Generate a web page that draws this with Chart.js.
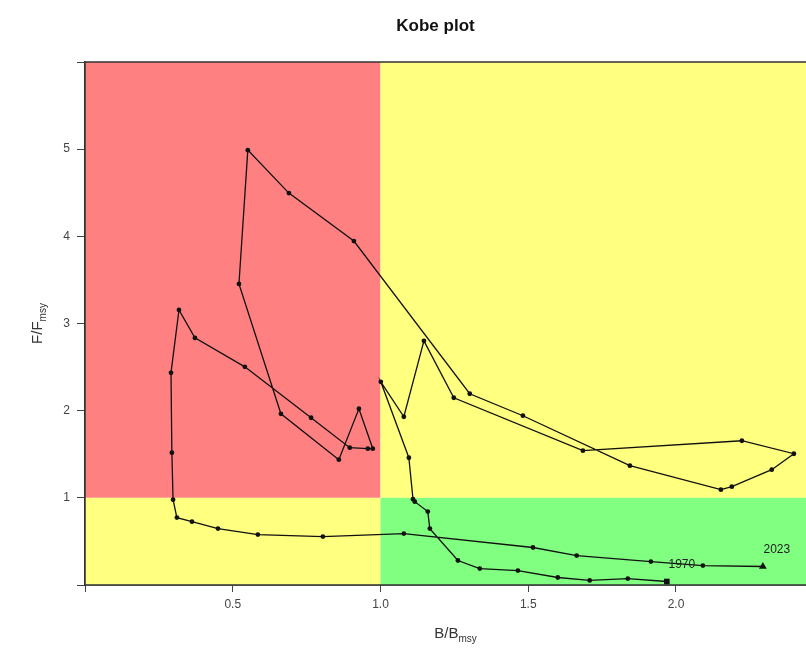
<!DOCTYPE html>
<html>
<head>
<meta charset="utf-8">
<script src="https://cdn.jsdelivr.net/npm/chart.js@4.4.1/dist/chart.umd.min.js"></script>
<style>
  html, body { margin: 0; padding: 0; background: #fff; }
  #wrap { width: 806px; height: 648px; }
</style>
</head>
<body>
<div id="wrap"><canvas id="kobe"></canvas></div>
<script>
// ========== Data ==========
// trajectory, first point = 1970, last point = 2023
const bRatio = [
  1.969, 1.837, 1.708, 1.600, 1.465, 1.336, 1.262, 1.167, 1.160, 1.116,
  1.110, 1.096, 1.001, 1.079, 1.147, 1.248, 1.685, 2.223, 2.399, 2.324,
  2.189, 2.152, 1.844, 1.482, 1.302, 0.910, 0.690, 0.551, 0.521, 0.663,
  0.859, 0.927, 0.974, 0.957, 0.896, 0.765, 0.541, 0.372, 0.318, 0.291,
  0.294, 0.298, 0.311, 0.362, 0.450, 0.585, 0.805, 1.079, 1.516, 1.664,
  1.915, 2.091, 2.294
];
const fRatio = [
  0.040, 0.074, 0.052, 0.086, 0.166, 0.189, 0.281, 0.647, 0.842, 0.956,
  0.985, 1.460, 2.331, 1.930, 2.801, 2.148, 1.541, 1.655, 1.506, 1.323,
  1.128, 1.094, 1.369, 1.942, 2.194, 3.946, 4.496, 4.989, 3.454, 1.964,
  1.438, 2.022, 1.564, 1.564, 1.575, 1.919, 2.503, 2.835, 3.156, 2.434,
  1.518, 0.979, 0.773, 0.727, 0.647, 0.578, 0.556, 0.590, 0.430, 0.338,
  0.269, 0.223, 0.212
];
const yearLabels = ['1970', '2023'];
const xTicks = [0, 0.5, 1.0, 1.5, 2.0];
const yTicks = [0, 1, 2, 3, 4, 5, 6];

// reference points splitting the quadrants
const bRef = 1;
const fRef = 1;

const RED = 'rgb(255,128,128)';
const YELLOW = 'rgb(255,255,128)';
const GREEN = 'rgb(128,255,128)';
const FONT = '"Liberation Sans", Arial, sans-serif';

// ========== Quadrants + box + texts ==========
const kobePlugin = {
  id: 'kobe',
  beforeDatasetsDraw(chart) {
    const { ctx, chartArea: a, scales } = chart;
    const xm = scales.x.getPixelForValue(bRef);
    const ym = scales.y.getPixelForValue(fRef);
    ctx.save();
    ctx.fillStyle = RED;    ctx.fillRect(a.left, a.top, xm - a.left, ym - a.top);
    ctx.fillStyle = YELLOW; ctx.fillRect(xm, a.top, a.right - xm, ym - a.top);
    ctx.fillStyle = YELLOW; ctx.fillRect(a.left, ym, xm - a.left, a.bottom - ym);
    ctx.fillStyle = GREEN;  ctx.fillRect(xm, ym, a.right - xm, a.bottom - ym);
    ctx.restore();
  },
  afterDraw(chart) {
    const { ctx, chartArea: a, scales } = chart;
    ctx.save();
    // box (right side is off the page)
    ctx.strokeStyle = '#333';
    ctx.lineWidth = 1.5;
    ctx.beginPath();
    ctx.moveTo(a.right, a.top);
    ctx.lineTo(a.left, a.top);
    ctx.lineTo(a.left, a.bottom);
    ctx.lineTo(a.right, a.bottom);
    ctx.stroke();

    // year labels at first / last point
    const last = bRatio.length - 1;
    ctx.fillStyle = '#222';
    ctx.font = '12px ' + FONT;
    ctx.textAlign = 'center';
    ctx.textBaseline = 'middle';
    ctx.fillText(yearLabels[0], scales.x.getPixelForValue(bRatio[0]) + 15, scales.y.getPixelForValue(fRatio[0]) - 17);
    ctx.fillText(yearLabels[1], scales.x.getPixelForValue(bRatio[last]) + 14, scales.y.getPixelForValue(fRatio[last]) - 17);

    // title
    ctx.fillStyle = '#111';
    ctx.font = 'bold 17px ' + FONT;
    ctx.fillText('Kobe plot', (a.left + a.right) / 2 - 10, 26);

    // axis titles with subscript
    drawSub(ctx, 'B/B', 'msy', (a.left + a.right) / 2 + 10, 634);
    ctx.translate(38, (a.top + a.bottom) / 2);
    ctx.rotate(-Math.PI / 2);
    drawSub(ctx, 'F/F', 'msy', 0, 0);
    ctx.restore();
  }
};

function drawSub(ctx, main, sub, cx, cy) {
  ctx.font = '15px ' + FONT;
  const w1 = ctx.measureText(main).width;
  ctx.font = '10px ' + FONT;
  const w2 = ctx.measureText(sub).width;
  const x0 = cx - (w1 + w2) / 2;
  ctx.fillStyle = '#333';
  ctx.textAlign = 'left';
  ctx.textBaseline = 'middle';
  ctx.font = '15px ' + FONT;
  ctx.fillText(main, x0, cy);
  ctx.font = '10px ' + FONT;
  ctx.fillText(sub, x0 + w1, cy + 5);
}

// ========== Chart ==========
const last = bRatio.length - 1;
const points = bRatio.map((b, i) => ({ x: b, y: fRatio[i] }));

new Chart(document.getElementById('kobe'), {
  type: 'scatter',
  data: {
    datasets: [{
      data: points,
      showLine: true,
      tension: 0,
      borderColor: '#111',
      borderWidth: 1.3,
      backgroundColor: '#111',
      pointBorderColor: '#111',
      pointBackgroundColor: '#111',
      pointStyle: c => c.dataIndex === 0 ? 'rect' : (c.dataIndex === last ? 'triangle' : 'circle'),
      pointRadius: c => c.dataIndex === 0 ? 4 : (c.dataIndex === last ? 4.5 : 2.4),
      pointBorderWidth: 0
    }]
  },
  options: {
    responsive: true,
    maintainAspectRatio: false,
    animation: false,
    layout: { autoPadding: false, padding: { top: 62, left: 0, right: 0, bottom: 0 } },
    plugins: {
      legend: { display: false },
      title: { display: false },
      tooltip: { enabled: false }
    },
    scales: {
      x: {
        type: 'linear',
        min: 0,
        max: 2.44,
        afterFit: s => { s.height = 63; },
        afterBuildTicks: s => { s.ticks = xTicks.map(v => ({ value: v })); },
        ticks: {
          autoSkip: false,
          maxRotation: 0,
          padding: 5,
          color: '#444',
          font: { family: FONT, size: 12 },
          callback: v => v === 0 ? '' : v.toFixed(1)
        },
        grid: { drawOnChartArea: false, drawTicks: true, tickLength: 7, color: '#444' },
        border: { display: true, color: '#333', width: 1.5 }
      },
      y: {
        type: 'linear',
        min: 0,
        max: 6,
        afterFit: s => { s.width = 85; },
        afterBuildTicks: s => { s.ticks = yTicks.map(v => ({ value: v })); },
        ticks: {
          autoSkip: false,
          padding: 7,
          color: '#444',
          font: { family: FONT, size: 12 },
          callback: v => (v === 0 || v === 6) ? '' : String(v)
        },
        grid: { drawOnChartArea: false, drawTicks: true, tickLength: 8, color: '#444' },
        border: { display: true, color: '#333', width: 1.5 }
      }
    }
  },
  plugins: [kobePlugin]
});
</script>
</body>
</html>
